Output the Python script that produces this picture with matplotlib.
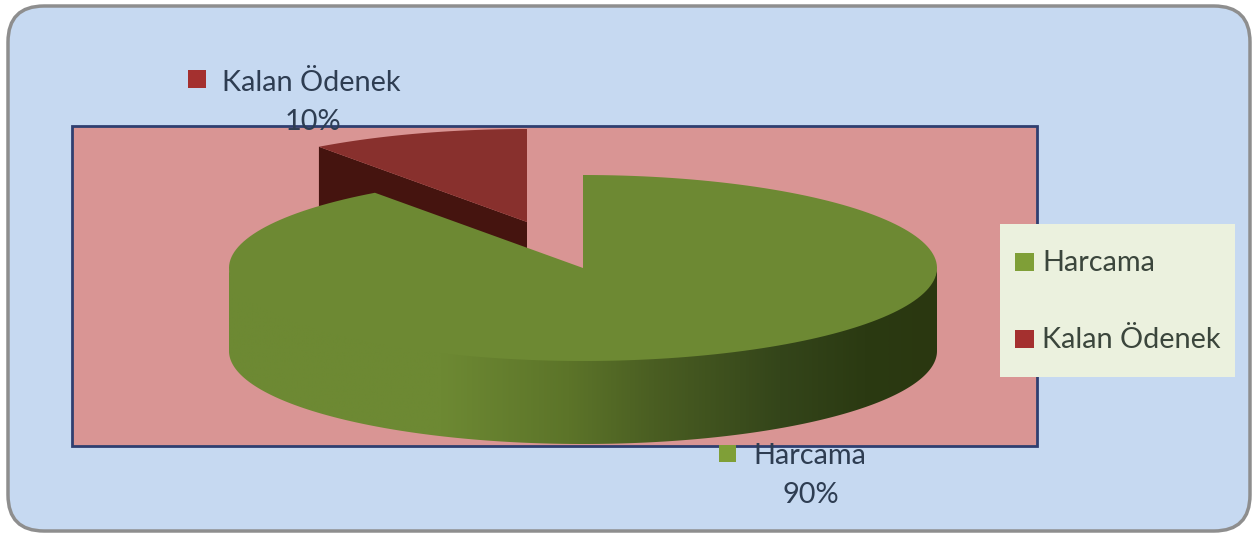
import numpy as np
import matplotlib.pyplot as plt
from matplotlib.colors import LinearSegmentedColormap
from matplotlib.patches import FancyBboxPatch, Polygon, Rectangle

plt.rcParams["font.family"] = ["Lato", "DejaVu Sans"]

# chart values
categories = ["Harcama", "Kalan Ödenek"]
shares = [90, 10]
percent_labels = ["90%", "10%"]

GREEN = "#6d8933"
RED = "#88302d"
RED_DARK = "#45140f"
GREEN_KEY = "#7f9f37"
RED_KEY = "#a4302f"
TEXT_BLUE = "#2e3d52"
TEXT_LEGEND = "#3b463c"
FONT_SIZE = 20.8

# pie shape in pixels
RX, RY, DEPTH = 354, 93, 83
main_center = (583, 268)
red_center = (527, 222)


def rim(center, angle):
    # angle runs clockwise from twelve o'clock
    a = np.radians(angle)
    return center[0] + RX * np.sin(a), center[1] - RY * np.cos(a)


def top_face(center, a0, a1):
    angles = np.linspace(a0, a1, 200)
    x, y = rim(center, angles)
    return np.vstack([[center], np.column_stack([x, y])])


fig = plt.figure(figsize=(12.52, 5.34), dpi=100, facecolor="white")
ax = fig.add_axes([0, 0, 1, 1])
ax.axis("off")

# outer rounded panel
ax.add_patch(FancyBboxPatch((8, 6), 1242, 525, boxstyle="round,pad=0,rounding_size=36",
                            facecolor="#c6d9f1", edgecolor="#8e8e8e", linewidth=2.5, zorder=1))

# plot area
ax.add_patch(Rectangle((72, 126), 965, 320, facecolor="#d99594", edgecolor="#2f3f70",
                       linewidth=2, zorder=2))

green_end = 360 * shares[0] / sum(shares)

# exploded small slice, behind the big one
rx0, ry0 = rim(red_center, green_end)
ax.add_patch(Polygon([red_center, (rx0, ry0), (rx0, ry0 + DEPTH),
                      (red_center[0], red_center[1] + DEPTH)],
                     facecolor=RED_DARK, edgecolor="none", zorder=3))
ax.add_patch(Polygon(top_face(red_center, green_end, 360), facecolor=RED,
                     edgecolor="none", zorder=4))

# side wall of the big slice with a left to right shade
angles = np.linspace(90, 270, 300)
sx, sy = rim(main_center, angles)
wall = np.vstack([np.column_stack([sx, sy]) + [0, -2],
                  np.column_stack([sx[::-1], sy[::-1] + DEPTH])])
wall_patch = Polygon(wall, facecolor="none", edgecolor="none", zorder=5)
ax.add_patch(wall_patch)
shade = LinearSegmentedColormap.from_list("wall", [
    (0.0, GREEN), (0.30, GREEN), (0.48, "#5c7429"), (0.60, "#4a5e22"),
    (0.78, "#34451a"), (0.90, "#2b3a12"), (1.0, "#2a3710")])
im = ax.imshow(np.linspace(0, 1, 512)[None, :], cmap=shade, aspect="auto", zorder=5,
               extent=(main_center[0] - RX, main_center[0] + RX,
                       main_center[1] + RY + DEPTH, main_center[1] - RY))
im.set_clip_path(wall_patch)

ax.add_patch(Polygon(top_face(main_center, 0, green_end), facecolor=GREEN,
                     edgecolor="none", zorder=6))

# data labels
ax.add_patch(Rectangle((188, 70), 18, 18, facecolor=RED_KEY, edgecolor="none", zorder=7))
ax.text(222, 83, categories[1], fontsize=FONT_SIZE, color=TEXT_BLUE, va="center", zorder=8)
ax.text(313, 122, percent_labels[1], fontsize=FONT_SIZE, color=TEXT_BLUE, ha="center", va="center", zorder=8)

ax.add_patch(Rectangle((719, 445), 17, 17, facecolor=GREEN_KEY, edgecolor="none", zorder=7))
ax.text(753, 456, categories[0], fontsize=FONT_SIZE, color=TEXT_BLUE, va="center", zorder=8)
ax.text(811, 495, percent_labels[0], fontsize=FONT_SIZE, color=TEXT_BLUE, ha="center", va="center", zorder=8)

# legend box
ax.add_patch(Rectangle((1000, 224), 235, 153, facecolor="#ebf1de", edgecolor="none", zorder=7))
ax.add_patch(Rectangle((1015, 253), 19, 18, facecolor=GREEN_KEY, edgecolor="none", zorder=8))
ax.add_patch(Rectangle((1015, 330), 19, 18, facecolor=RED_KEY, edgecolor="none", zorder=8))
ax.text(1042, 263, categories[0], fontsize=FONT_SIZE, color=TEXT_LEGEND, va="center", zorder=8)
ax.text(1042, 340, categories[1], fontsize=FONT_SIZE, color=TEXT_LEGEND, va="center", zorder=8)

ax.set_xlim(0, 1252)
ax.set_ylim(534, 0)

fig.savefig("out.png", dpi=100, facecolor="white")
